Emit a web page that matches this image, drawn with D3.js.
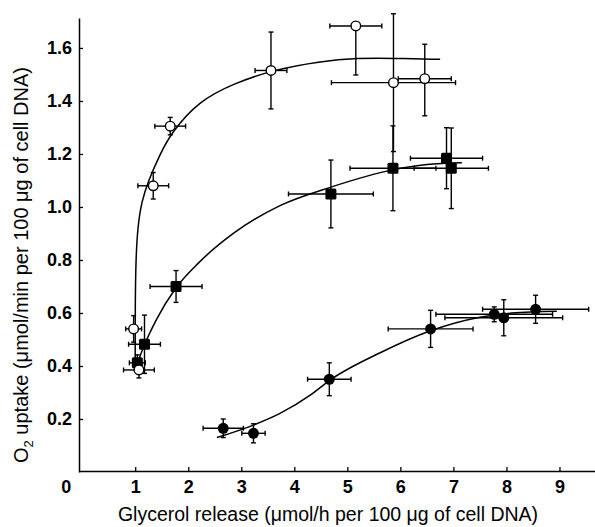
<!DOCTYPE html>
<html>
<head>
<meta charset="utf-8">
<script src="https://cdn.jsdelivr.net/npm/d3@7"></script>
<style>
  body { margin: 0; background: #fff; }
  svg { display: block; font-family: "Liberation Sans", Arial, sans-serif; }
</style>
</head>
<body>
<script>
// open circles
var openX = [0.97, 1.07, 1.34, 1.66, 3.56, 5.16, 5.87, 6.46];
var openY = [0.54, 0.385, 1.08, 1.305, 1.515, 1.683, 1.469, 1.484];
var openXErr = [0.15, 0.29, 0.29, 0.29, 0.30, 0.49, 1.17, 0.50];
var openYLo = [0.05, 0.03, 0.05, 0.033, 0.145, 0.185, 0.26, 0.14];
var openYHi = [0.05, 0.03, 0.05, 0.033, 0.145, 0, 0.26, 0.13];

// filled squares
var sqX = [1.04, 1.175, 1.77, 4.69, 5.86, 6.87, 6.96];
var sqY = [0.412, 0.482, 0.70, 1.049, 1.146, 1.184, 1.146];
var sqXErr = [0.15, 0.30, 0.49, 0.80, 0.81, 0.68, 0.70];
var sqYErr = [0.03, 0.11, 0.06, 0.128, 0.16, 0.115, 0.152];

// filled circles
var fcX = [2.66, 3.23, 4.66, 6.57, 7.77, 7.95, 8.55];
var fcY = [0.165, 0.146, 0.35, 0.54, 0.595, 0.582, 0.614];
var fcXErr = [0.38, 0.22, 0.41, 0.80, 1.10, 1.11, 1.00];
var fcYErr = [0.035, 0.036, 0.062, 0.07, 0.028, 0.068, 0.053];

// fitted curves
var openCurveX = [1.0, 1.0, 1.0, 1.01, 1.05, 1.12, 1.25, 1.47, 1.68, 2.2, 2.85, 3.56, 4.49, 5.2, 5.87, 6.75];
var openCurveY = [0.39, 0.5, 0.6, 0.8, 0.93, 1.02, 1.1, 1.2, 1.28, 1.4, 1.465, 1.515, 1.55, 1.562, 1.561, 1.557];
var sqCurveX = [1.04, 1.175, 1.4, 1.77, 2.2, 2.85, 3.73, 4.69, 5.86, 6.5, 7.16];
var sqCurveY = [0.41, 0.48, 0.575, 0.695, 0.79, 0.90, 1.005, 1.075, 1.14, 1.16, 1.167];
var fcCurveX = [2.54, 3.23, 3.73, 4.30, 4.66, 5.62, 6.57, 7.5, 8.1, 8.95];
var fcCurveY = [0.13, 0.177, 0.221, 0.29, 0.345, 0.45, 0.533, 0.584, 0.6, 0.607];

var xTicks = [1, 2, 3, 4, 5, 6, 7, 8, 9];
var yTicks = [0.2, 0.4, 0.6, 0.8, 1.0, 1.2, 1.4, 1.6];

var W = 595, H = 527;
var svg = d3.select("body").append("svg").attr("width", W).attr("height", H);

var x = d3.scaleLinear().domain([-0.06, 9.67]).range([79, 595]);
var y = d3.scaleLinear().domain([0, 1.713]).range([472, 18]);

// axes
var xAxis = svg.append("g").attr("transform", "translate(0,471)")
  .call(d3.axisBottom(x).tickValues(xTicks).tickFormat(d3.format("d"))
    .tickSizeInner(-4).tickSizeOuter(0).tickPadding(9));
var yAxis = svg.append("g").attr("transform", "translate(79,0)")
  .call(d3.axisLeft(y).tickValues(yTicks).tickFormat(d3.format(".1f"))
    .tickSizeInner(-4).tickSizeOuter(0).tickPadding(7));
[xAxis, yAxis].forEach(function(a){
  a.select(".domain").attr("stroke", "#000").attr("stroke-width", 1.5);
  a.selectAll(".tick line").attr("stroke", "#000").attr("stroke-width", 1.3);
  a.selectAll(".tick text").attr("fill", "#000")
    .style("font-size", "18px").style("font-weight", "bold");
});
// "0" at the corner
svg.append("text").attr("x", x(0) - 16).attr("y", 493)
  .attr("text-anchor", "middle").style("font-size", "18px").style("font-weight", "bold")
  .text("0");

// axis titles
svg.append("text").attr("x", 328).attr("y", 521).attr("text-anchor", "middle")
  .style("font-size", "19.5px").text("Glycerol release (\u03bcmol/h per 100 \u03bcg of cell DNA)");
var yt = svg.append("text").attr("transform", "translate(28,265) rotate(-90)")
  .attr("text-anchor", "middle").style("font-size", "20px");
yt.append("tspan").text("O");
yt.append("tspan").attr("dy", 5).style("font-size", "13px").text("2");
yt.append("tspan").attr("dy", -5).text(" uptake (\u03bcmol/min per 100 \u03bcg of cell DNA)");

// curves
function curvePath(xs, ys, curve){
  var line = d3.line().x(function(d){ return x(d[0]); }).y(function(d){ return y(d[1]); }).curve(curve);
  svg.append("path").datum(d3.zip(xs, ys))
    .attr("d", line).attr("fill", "none").attr("stroke", "#000").attr("stroke-width", 1.5);
}
curvePath(openCurveX, openCurveY, d3.curveBasis);
curvePath(sqCurveX, sqCurveY, d3.curveMonotoneX);
curvePath(fcCurveX, fcCurveY, d3.curveMonotoneX);

// error bars
function errorBars(xs, ys, xe, ylo, yhi){
  var g = svg.append("g").attr("stroke", "#000").attr("stroke-width", 1.4);
  var cap = 2.5;
  xs.forEach(function(xv, i){
    var cx = x(xv), cy = y(ys[i]);
    var x0 = x(xv - xe[i]), x1 = x(xv + xe[i]);
    g.append("line").attr("x1", x0).attr("x2", x1).attr("y1", cy).attr("y2", cy);
    g.append("line").attr("x1", x0).attr("x2", x0).attr("y1", cy - cap).attr("y2", cy + cap);
    g.append("line").attr("x1", x1).attr("x2", x1).attr("y1", cy - cap).attr("y2", cy + cap);
    if (yhi[i] > 0) {
      var yt1 = y(ys[i] + yhi[i]);
      g.append("line").attr("x1", cx).attr("x2", cx).attr("y1", cy).attr("y2", yt1);
      g.append("line").attr("x1", cx - cap).attr("x2", cx + cap).attr("y1", yt1).attr("y2", yt1);
    }
    if (ylo[i] > 0) {
      var yb = y(ys[i] - ylo[i]);
      g.append("line").attr("x1", cx).attr("x2", cx).attr("y1", cy).attr("y2", yb);
      g.append("line").attr("x1", cx - cap).attr("x2", cx + cap).attr("y1", yb).attr("y2", yb);
    }
  });
}
errorBars(fcX, fcY, fcXErr, fcYErr, fcYErr);
errorBars(sqX, sqY, sqXErr, sqYErr, sqYErr);
errorBars(openX, openY, openXErr, openYLo, openYHi);

// markers
svg.append("g").selectAll("circle").data(d3.zip(fcX, fcY)).enter().append("circle")
  .attr("cx", function(d){ return x(d[0]); }).attr("cy", function(d){ return y(d[1]); })
  .attr("r", 5.5).attr("fill", "#000");
svg.append("g").selectAll("rect").data(d3.zip(sqX, sqY)).enter().append("rect")
  .attr("x", function(d){ return x(d[0]) - 5.5; }).attr("y", function(d){ return y(d[1]) - 5.5; })
  .attr("width", 11).attr("height", 11).attr("rx", 1.5).attr("fill", "#000");
svg.append("g").selectAll("circle").data(d3.zip(openX, openY)).enter().append("circle")
  .attr("cx", function(d){ return x(d[0]); }).attr("cy", function(d){ return y(d[1]); })
  .attr("r", 4.8).attr("fill", "#fff").attr("stroke", "#000").attr("stroke-width", 1.4);
</script>
</body>
</html>
